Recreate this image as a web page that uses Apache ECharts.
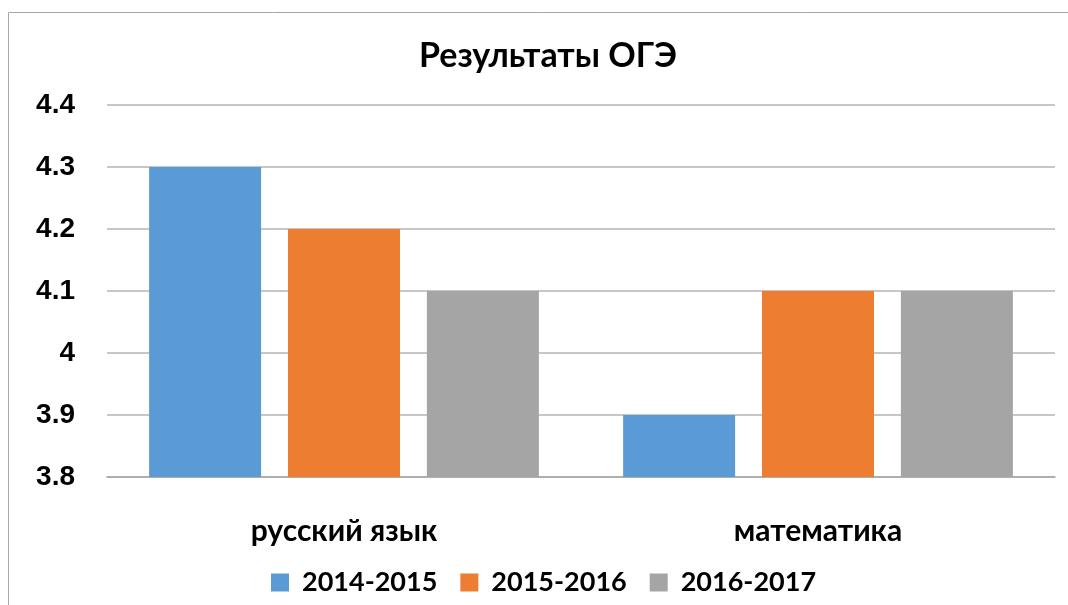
<!DOCTYPE html>
<html><head><meta charset="utf-8">
<script src="https://cdn.jsdelivr.net/npm/echarts@6/dist/echarts.min.js"></script>
<style>html,body{margin:0;padding:0;background:#fff}#c{width:1068px;height:605px}</style>
</head><body><div id="c"></div>
<script>
const categories = ['русский язык', 'математика'];
const seriesNames = ['2014-2015', '2015-2016', '2016-2017'];
const s2014 = [4.3, 3.9];
const s2015 = [4.2, 4.1];
const s2016 = [4.1, 4.1];
const yTicks = ['3.8', '3.9', '4', '4.1', '4.2', '4.3', '4.4'];
const colors = ['#5b9bd5', '#ed7d31', '#a5a5a5'];
const values = [s2014, s2015, s2016];

const chart = echarts.init(document.getElementById('c'));
chart.setOption({
  animation: false,
  title: {
    text: 'Результаты ОГЭ', left: 414, top: 34,
    textStyle: { fontFamily: 'Lato', fontWeight: 'bold', fontSize: 34, color: '#000' }
  },
  graphic: [{
    type: 'rect', silent: true,
    shape: { x: 8.5, y: 12.5, width: 1200, height: 800 },
    style: { fill: 'none', stroke: '#a6a6a6', lineWidth: 1 }
  }],
  legend: {
    bottom: 4, left: 266, itemWidth: 18, itemHeight: 18, itemGap: 23,
    icon: 'rect',
    textStyle: { fontFamily: 'Lato', fontWeight: 'bold', fontSize: 27, color: '#000', padding: [0, 0, 0, 8] },
    data: seriesNames
  },
  grid: { left: 107, right: 13, top: 105, bottom: 128 },
  xAxis: {
    type: 'category', data: categories,
    axisLine: { lineStyle: { color: '#a6a6a6', width: 1.5 } },
    axisTick: { show: false },
    axisLabel: { margin: 39, fontFamily: 'Lato', fontWeight: 'bold', fontSize: 30, color: '#000' }
  },
  yAxis: {
    type: 'value', min: 3.8, max: 4.4, interval: 0.1,
    axisLine: { show: false }, axisTick: { show: false },
    splitLine: { lineStyle: { color: '#b4b4b4', width: 1.5 } },
    axisLabel: {
      margin: 32, fontFamily: 'Liberation Sans', fontWeight: 'bold', fontSize: 28, color: '#000',
      formatter: function (v) { const i = Math.round((v - 3.8) / 0.1); return yTicks[i]; }
    }
  },
  series: seriesNames.map((n, i) => ({
    name: n, type: 'bar', data: values[i], barWidth: 112, barGap: '24%',
    itemStyle: { color: colors[i] }
  }))
});
</script></body></html>
